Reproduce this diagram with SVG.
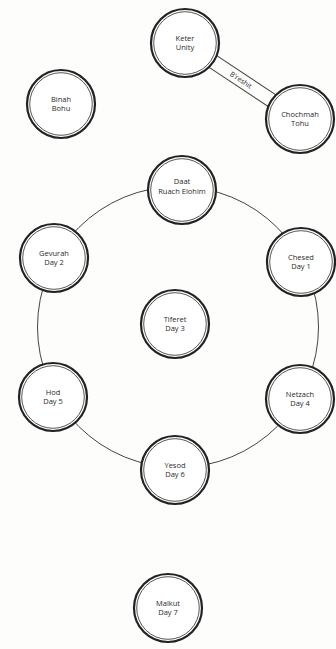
<svg xmlns="http://www.w3.org/2000/svg" width="336" height="649" viewBox="0 0 336 649">
<style>
.o{fill:#fff;stroke:#222;stroke-width:2.2}
.i{fill:none;stroke:#444;stroke-width:0.9}
.t{font-family:"Open Sans","Liberation Sans",sans-serif;font-size:7.5px;fill:#2a2a2a;text-anchor:middle}
.c{fill:none;stroke:#444;stroke-width:1}
</style>
<defs>
<g id="ring"><circle class="o" r="34"/><circle class="i" r="31.3"/></g>
</defs>
<rect width="336" height="649" fill="#fdfdfc"/>
<g id="connectors">
<circle class="c" cx="178" cy="327" r="140.5"/>
<g transform="translate(185,43) rotate(33.5)">
<line class="c" x1="0" y1="-7" x2="138" y2="-7"/>
<line class="c" x1="0" y1="7" x2="138" y2="7"/>
<text class="t" x="67" y="2.4" style="font-size:7px">B'reshit</text>
</g>
</g>
<g id="keter"><use href="#ring" x="185" y="43"/><text class="t" x="185" y="41">Keter</text><text class="t" x="185" y="50">Unity</text></g>
<g id="chochmah"><use href="#ring" x="300" y="119"/><text class="t" x="300" y="117">Chochmah</text><text class="t" x="300" y="126">Tohu</text></g>
<g id="binah"><use href="#ring" x="61" y="104"/><text class="t" x="61" y="102">Binah</text><text class="t" x="61" y="111">Bohu</text></g>
<g id="daat"><use href="#ring" x="182" y="190"/><text class="t" x="182" y="184">Daat</text><text class="t" x="182" y="194">Ruach Elohim</text></g>
<g id="gevurah"><use href="#ring" x="54" y="258"/><text class="t" x="54" y="256">Gevurah</text><text class="t" x="54" y="265">Day 2</text></g>
<g id="chesed"><use href="#ring" x="301" y="262"/><text class="t" x="301" y="260">Chesed</text><text class="t" x="301" y="269">Day 1</text></g>
<g id="tiferet"><use href="#ring" x="175" y="324"/><text class="t" x="175" y="322">Tiferet</text><text class="t" x="175" y="331">Day 3</text></g>
<g id="hod"><use href="#ring" x="53" y="397"/><text class="t" x="53" y="395">Hod</text><text class="t" x="53" y="404">Day 5</text></g>
<g id="netzach"><use href="#ring" x="300" y="399"/><text class="t" x="300" y="397">Netzach</text><text class="t" x="300" y="406">Day 4</text></g>
<g id="yesod"><use href="#ring" x="175" y="470"/><text class="t" x="175" y="468">Yesod</text><text class="t" x="175" y="477">Day 6</text></g>
<g id="malkut"><use href="#ring" x="168" y="608"/><text class="t" x="168" y="606">Malkut</text><text class="t" x="168" y="615">Day 7</text></g>
</svg>
